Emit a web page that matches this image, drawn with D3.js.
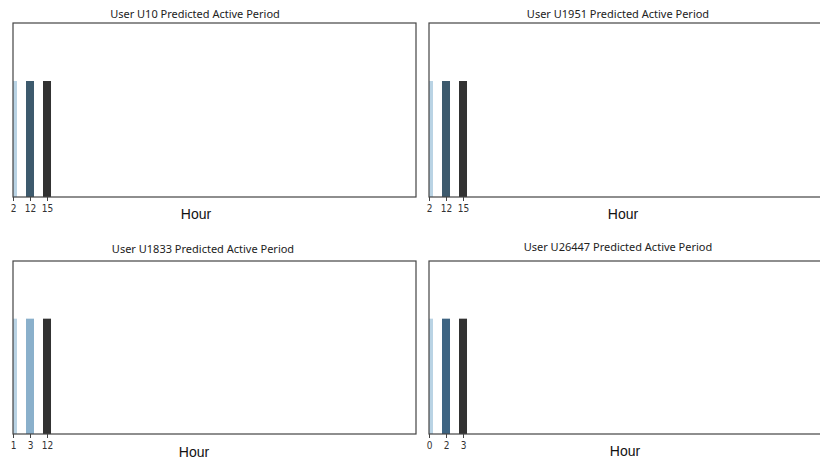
<!DOCTYPE html>
<html>
<head>
<meta charset="utf-8">
<script src="https://cdn.jsdelivr.net/npm/d3@7"></script>
<style>
  html, body { margin: 0; padding: 0; background: #fff; }
  svg { display: block; }
</style>
</head>
<body>
<svg id="chart" width="820" height="460"></svg>
<script>
// ---- data ----
const users = ["U10", "U1951", "U1833", "U26447"];
const hoursU10 = ["2", "12", "15"];
const hoursU1951 = ["2", "12", "15"];
const hoursU1833 = ["1", "3", "12"];
const hoursU26447 = ["0", "2", "3"];
const valuesU10 = [1, 1, 1];
const valuesU1951 = [1, 1, 1];
const valuesU1833 = [1, 1, 1];
const valuesU26447 = [1, 1, 1];
const colorsU10 = ["#b9d3e4", "#3d5a6d", "#323232"];
const colorsU1951 = ["#b9d3e4", "#3d5a6d", "#323232"];
const colorsU1833 = ["#b9d3e4", "#8ab0cb", "#323232"];
const colorsU26447 = ["#b9d3e4", "#3e6482", "#323232"];
const yMax = 1.5;

const hoursList = [hoursU10, hoursU1951, hoursU1833, hoursU26447];
const valuesList = [valuesU10, valuesU1951, valuesU1833, valuesU26447];
const colorsList = [colorsU10, colorsU1951, colorsU1833, colorsU26447];

// ---- layout ----
const panels = [
  { left: 13,  top: 23,  w: 403, h: 174, titleX: 195, titleY: 18,  hourX: 196, hourY: 219 },
  { left: 429, top: 23,  w: 403, h: 174, titleX: 618, titleY: 18,  hourX: 623, hourY: 219 },
  { left: 13,  top: 261, w: 403, h: 173, titleX: 203, titleY: 253, hourX: 194, hourY: 457 },
  { left: 429, top: 261, w: 403, h: 173, titleX: 618, titleY: 251, hourX: 625, hourY: 456 }
];

const svg = d3.select("#chart");

panels.forEach((p, i) => {
  const hours = hoursList[i], vals = valuesList[i], cols = colorsList[i];
  const g = svg.append("g").attr("transform", `translate(${p.left},${p.top})`);

  const x = d3.scaleLinear().domain([0, 23.7]).range([0, p.w]);
  const y = d3.scaleLinear().domain([0, yMax]).range([p.h, 0]);
  const barW = 8;

  const clipId = "clip" + i;
  g.append("clipPath").attr("id", clipId)
    .append("rect").attr("x", 0).attr("y", 0).attr("width", p.w).attr("height", p.h);

  g.append("g").attr("clip-path", `url(#${clipId})`)
    .selectAll("rect").data(vals).join("rect")
    .attr("x", (d, k) => x(k) - barW / 2)
    .attr("y", d => y(d))
    .attr("width", barW)
    .attr("height", d => y(0) - y(d))
    .attr("fill", (d, k) => cols[k]);

  g.append("rect")
    .attr("x", 0).attr("y", 0).attr("width", p.w).attr("height", p.h)
    .attr("fill", "none").attr("stroke", "#444").attr("stroke-width", 1.2);

  const xAxis = d3.axisBottom(x)
    .tickValues(d3.range(hours.length))
    .tickFormat(k => hours[k])
    .tickSize(4).tickSizeOuter(0);
  const ax = g.append("g").attr("transform", `translate(0,${p.h})`).call(xAxis);
  ax.select(".domain").remove();
  ax.selectAll(".tick line").attr("stroke", "#444");
  ax.selectAll(".tick text")
    .attr("fill", "#333")
    .attr("font-family", "'DejaVu Sans Condensed', 'Liberation Sans Narrow', sans-serif")
    .attr("font-size", 10)
    .attr("dy", "0.71em")
    .attr("y", 8);

  svg.append("text")
    .attr("x", p.titleX).attr("y", p.titleY)
    .attr("text-anchor", "middle")
    .attr("font-family", "'Noto Sans', 'Open Sans', sans-serif")
    .attr("font-size", 11)
    .attr("fill", "#222")
    .text(`User ${users[i]} Predicted Active Period`);

  svg.append("text")
    .attr("x", p.hourX).attr("y", p.hourY)
    .attr("text-anchor", "middle")
    .attr("font-family", "'Liberation Sans', Arial, sans-serif")
    .attr("font-size", 14)
    .attr("fill", "#111")
    .text("Hour");
});
</script>
</body>
</html>
